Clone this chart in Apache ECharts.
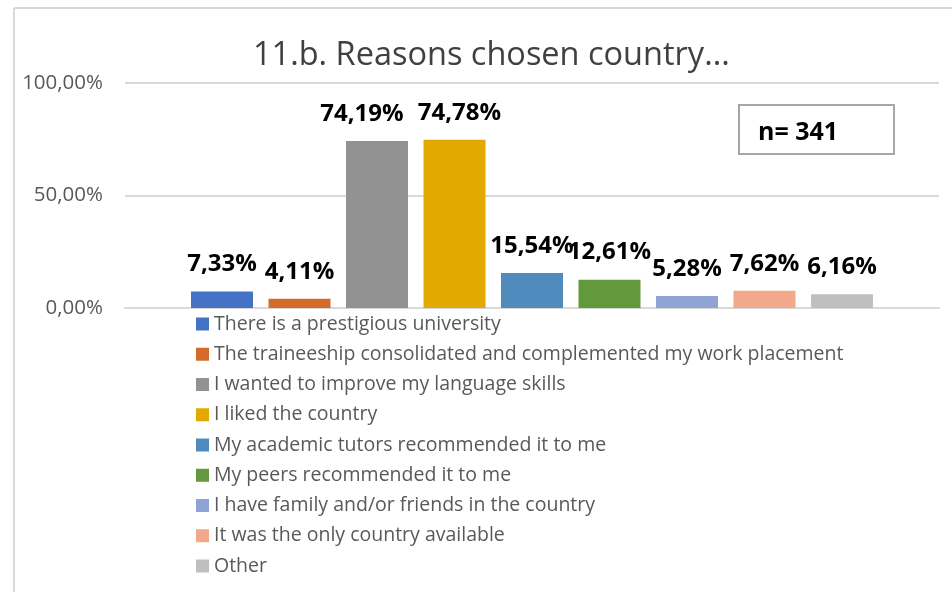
<!DOCTYPE html>
<html><head><meta charset="utf-8">
<script src="https://cdn.jsdelivr.net/npm/echarts@6/dist/echarts.min.js"></script>
<style>html,body{margin:0;padding:0;background:#fff}#c{width:952px;height:592px}</style>
</head><body><div id="c"></div>
<script>
const title = '11.b. Reasons chosen country...';
const categories = [''];
const seriesNames = [
  'There is a prestigious university',
  'The traineeship consolidated and complemented my work placement',
  'I wanted to improve my language skills',
  'I liked the country',
  'My academic tutors recommended it to me',
  'My peers recommended it to me',
  'I have family and/or friends in the country',
  'It was the only country available',
  'Other'
];
const values = [7.33, 4.11, 74.19, 74.78, 15.54, 12.61, 5.28, 7.62, 6.16];
const colors = ['#4472C4','#D46B2A','#929292','#E2AA00','#4F8BBD','#63993D','#8FA4D4','#F1A88B','#BFBFBF'];
const yTicks = [0, 50, 100];
const nLabel = 'n= 341';

const fmt = v => v.toFixed(2).replace('.', ',') + '%';
const FONT = 'Open Sans';
// manual label nudges (as in the original, the two tall labels are pulled apart)
const labelShift = [0, 0, -15, 5, 0, 0, 0, 0, 0];

const chart = echarts.init(document.getElementById('c'), null, {renderer:'canvas'});
chart.setOption({
  animation: false,
  color: colors,
  title: {
    text: title, left: 253, top: 39, padding: 0,
    textStyle: {fontFamily: FONT, fontSize: 32.5, fontWeight: 'normal', color: '#404040'}
  },
  grid: {left: 125, right: 13, top: 83, bottom: 284, containLabel: false},
  xAxis: {
    type: 'category', data: categories,
    axisLine: {show: true, lineStyle: {color: '#D9D9D9', width: 2}},
    axisTick: {show: false}, axisLabel: {show: false}
  },
  yAxis: {
    type: 'value', min: 0, max: 100, interval: 50,
    axisLine: {show: false}, axisTick: {show: false},
    splitLine: {lineStyle: {color: '#D9D9D9', width: 2}},
    axisLabel: {
      formatter: v => fmt(v), margin: 22,
      fontFamily: FONT, fontSize: 20.5, color: '#595959'
    }
  },
  legend: {
    orient: 'vertical', left: 196, top: 314, padding: 0,
    itemWidth: 13, itemHeight: 13, itemGap: 10.25, icon: 'rect',
    textStyle: {fontFamily: FONT, fontSize: 19.5, lineHeight: 20, color: '#595959'},
    data: seriesNames
  },
  series: seriesNames.map((name, i) => ({
    name: name, type: 'bar', data: [values[i]],
    barWidth: 62, barGap: '25%',
    itemStyle: {color: colors[i]},
    label: {
      show: true, position: 'top', distance: 15, offset: [labelShift[i], 0],
      formatter: p => fmt(p.value),
      fontFamily: FONT, fontSize: 24, fontWeight: 'bold', color: '#000'
    }
  })),
  graphic: [
    {type: 'line', shape: {x1: 14, y1: 8, x2: 14, y2: 592}, style: {stroke: '#D9D9D9', lineWidth: 2}},
    {type: 'line', shape: {x1: 14, y1: 8, x2: 952, y2: 8}, style: {stroke: '#D9D9D9', lineWidth: 2}},
    {type: 'rect', shape: {x: 739, y: 105, width: 155, height: 49},
     style: {fill: '#fff', stroke: '#A6A6A6', lineWidth: 2}},
    {type: 'text', x: 798, y: 133,
     style: {text: nLabel, fontFamily: FONT, fontSize: 25, fontWeight: 'bold', fill: '#000',
             textAlign: 'center', textVerticalAlign: 'middle'}}
  ]
});
</script></body></html>
